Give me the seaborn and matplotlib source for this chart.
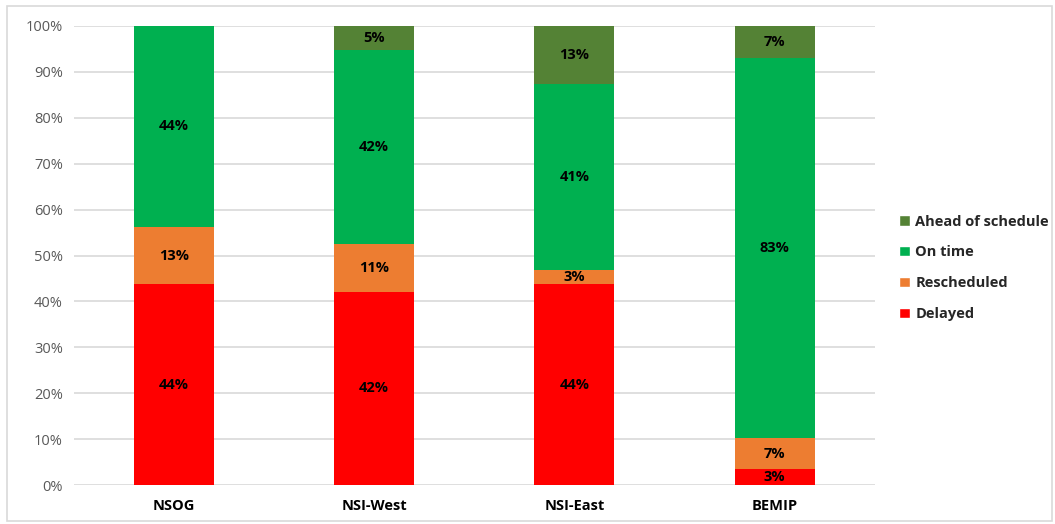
import numpy as np
import pandas as pd
import matplotlib
matplotlib.use("Agg")
import matplotlib.pyplot as plt
import seaborn as sns
from matplotlib.patches import Patch, Rectangle

regions = ["NSOG", "NSI-West", "NSI-East", "BEMIP"]
delayed = [43.75, 42.1, 43.75, 3.4]
rescheduled = [12.5, 10.5, 3.1, 6.9]
on_time = [43.75, 42.1, 40.6, 82.8]
ahead = [0.0, 5.3, 12.5, 6.9]

series = ["Delayed", "Rescheduled", "On time", "Ahead of schedule"]
colors = {"Delayed": "#FF0000", "Rescheduled": "#ED7D31",
          "On time": "#00B050", "Ahead of schedule": "#548235"}

df = pd.DataFrame({"region": regions, "Delayed": delayed, "Rescheduled": rescheduled,
                   "On time": on_time, "Ahead of schedule": ahead})
cum = df[series].cumsum(axis=1)

sns.set_style("white")
plt.rcParams["font.family"] = ["Open Sans", "DejaVu Sans"]

fig = plt.figure(figsize=(10.55, 5.24), dpi=100)
ax = fig.add_axes([0.0701, 0.0744, 0.759, 0.876])

# draw cumulative totals from the top series down so lower segments sit on top
for s in reversed(series):
    sns.barplot(x=df["region"], y=cum[s], color=colors[s], width=0.4,
                saturation=1, linewidth=0, edgecolor="none", ax=ax, zorder=2)

# segment labels
for i in range(len(regions)):
    for s in series:
        v = df.loc[i, s]
        if v <= 0:
            continue
        ax.text(i, cum.loc[i, s] - v / 2, f"{int(v + 0.5)}%", ha="center", va="center",
                fontsize=10.5, fontweight="bold", color="black", zorder=3)

ax.set_ylim(0, 100)
ax.set_xlim(-0.5, 3.5)
ax.set_yticks(np.arange(0, 101, 10))
ax.set_yticklabels([f"{t}%" for t in range(0, 101, 10)])
ax.yaxis.grid(True, color="#D9D9D9", linewidth=1.2, zorder=0)
ax.set_axisbelow(True)
for sp in ax.spines.values():
    sp.set_visible(False)
ax.set_xlabel("")
ax.set_ylabel("")
ax.tick_params(axis="y", colors="#595959", labelsize=10.5, length=0, pad=8)
ax.tick_params(axis="x", colors="black", labelsize=10.5, length=0, pad=10)
for lab in ax.get_xticklabels():
    lab.set_fontweight("bold")

handles = [Patch(facecolor=colors[s], label=s) for s in reversed(series)]
fig.legend(handles=handles, loc="center left", bbox_to_anchor=(0.84, 0.489),
           frameon=False, handlelength=0.7, handleheight=0.7, handletextpad=0.4,
           labelspacing=1.15, prop={"size": 10.5, "weight": "bold"})

fig.patches.append(Rectangle((0.007, 0.006), 0.99, 0.982, transform=fig.transFigure,
                             fill=False, edgecolor="#D9D9D9", linewidth=1.2))

fig.savefig("out.png", dpi=100)
